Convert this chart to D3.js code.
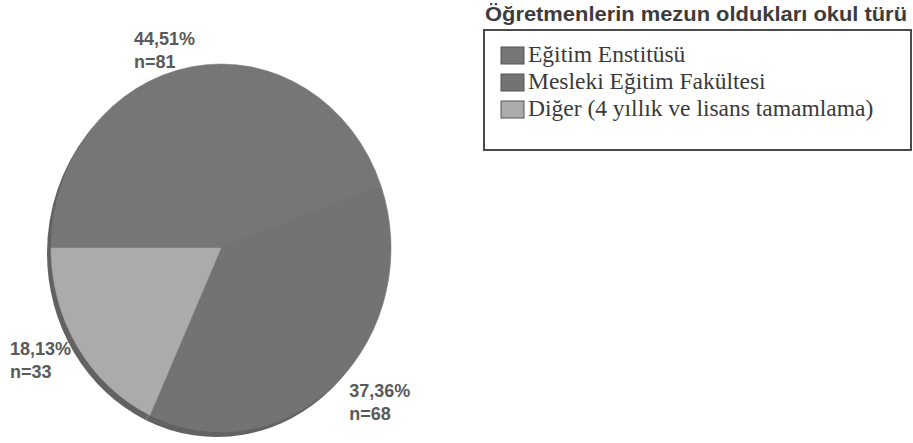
<!DOCTYPE html>
<html>
<head>
<meta charset="utf-8">
<script src="https://cdn.jsdelivr.net/npm/d3@7"></script>
<style>
  body { margin: 0; background: #fff; }
  svg { display: block; }
  .pct { font-family: "Liberation Sans", Arial, sans-serif; font-weight: bold; font-size: 18px; fill: #5a5a5a; }
  .legTitle { font-family: "Liberation Sans", Arial, sans-serif; font-weight: bold; font-size: 19.5px; fill: #3c3c3c; }
  .legItem { font-family: "Liberation Serif", "Times New Roman", serif; font-size: 23.5px; fill: #3a3a3a; }
</style>
</head>
<body>
<div id="chart"></div>
<script>
var categories = ["Eğitim Enstitüsü", "Mesleki Eğitim Fakültesi", "Diğer (4 yıllık ve lisans tamamlama)"];
var counts = [81, 68, 33];
var percents = ["44,51%", "37,36%", "18,13%"];
var legendTitle = "Öğretmenlerin mezun oldukları okul türü";

var width = 913, height = 443;
var cx = 221, cy = 248, rx = 170, ry = 184;
var colors = ["#767676", "#737373", "#ababab"];

var svg = d3.select("#chart").append("svg")
  .attr("width", width)
  .attr("height", height);

var pie = d3.pie()
  .sort(null)
  .startAngle(-Math.PI / 2)
  .endAngle(3 * Math.PI / 2)
  .value(function (d) { return d; });

var arcs = pie(counts);

var arc = d3.arc().innerRadius(0).outerRadius(rx);

// depth rim, shifted down-left
var rim = svg.append("g")
  .attr("transform", "translate(" + (cx - 4) + "," + (cy + 5) + ") scale(1," + (ry / rx) + ")");
rim.selectAll("path")
  .data(arcs)
  .enter().append("path")
  .attr("d", arc)
  .attr("fill", "#626262");

// top face
var face = svg.append("g")
  .attr("transform", "translate(" + cx + "," + cy + ") scale(1," + (ry / rx) + ")");
face.selectAll("path")
  .data(arcs)
  .enter().append("path")
  .attr("d", arc)
  .attr("fill", function (d, i) { return colors[i]; })
  .attr("stroke", function (d, i) { return colors[i]; })
  .attr("stroke-width", 0.5);

// labels around the pie
var labelArc = d3.arc().innerRadius(215).outerRadius(215);
var nudge = [[-50, 4], [-17, 3], [-30, 1]];
var labels = svg.append("g").attr("transform", "translate(" + cx + "," + cy + ")");
arcs.forEach(function (d, i) {
  var c = labelArc.centroid(d);
  var x = c[0] + nudge[i][0];
  var y = c[1] * (205 / 215) + nudge[i][1];
  var t = labels.append("text").attr("class", "pct");
  t.append("tspan").attr("x", x).attr("y", y - 5).text(percents[i]);
  t.append("tspan").attr("x", x).attr("y", y + 18).text("n=" + counts[i]);
});

// legend
var legend = svg.append("g");
legend.append("text")
  .attr("class", "legTitle")
  .attr("x", 485)
  .attr("y", 21)
  .attr("textLength", 422)
  .attr("lengthAdjust", "spacingAndGlyphs")
  .text(legendTitle);

legend.append("rect")
  .attr("x", 484)
  .attr("y", 30)
  .attr("width", 427)
  .attr("height", 120)
  .attr("fill", "none")
  .attr("stroke", "#4a4a4a")
  .attr("stroke-width", 2);

var items = legend.selectAll("g.item")
  .data(categories)
  .enter().append("g")
  .attr("class", "item")
  .attr("transform", function (d, i) { return "translate(501," + (62 + i * 27) + ")"; });

items.append("rect")
  .attr("x", 0)
  .attr("y", -15)
  .attr("width", 23)
  .attr("height", 17)
  .attr("fill", function (d, i) { return colors[i]; })
  .attr("stroke", "#555")
  .attr("stroke-width", 1);

items.append("text")
  .attr("class", "legItem")
  .attr("x", 27)
  .attr("y", 0)
  .text(function (d) { return d; });
</script>
</body>
</html>
